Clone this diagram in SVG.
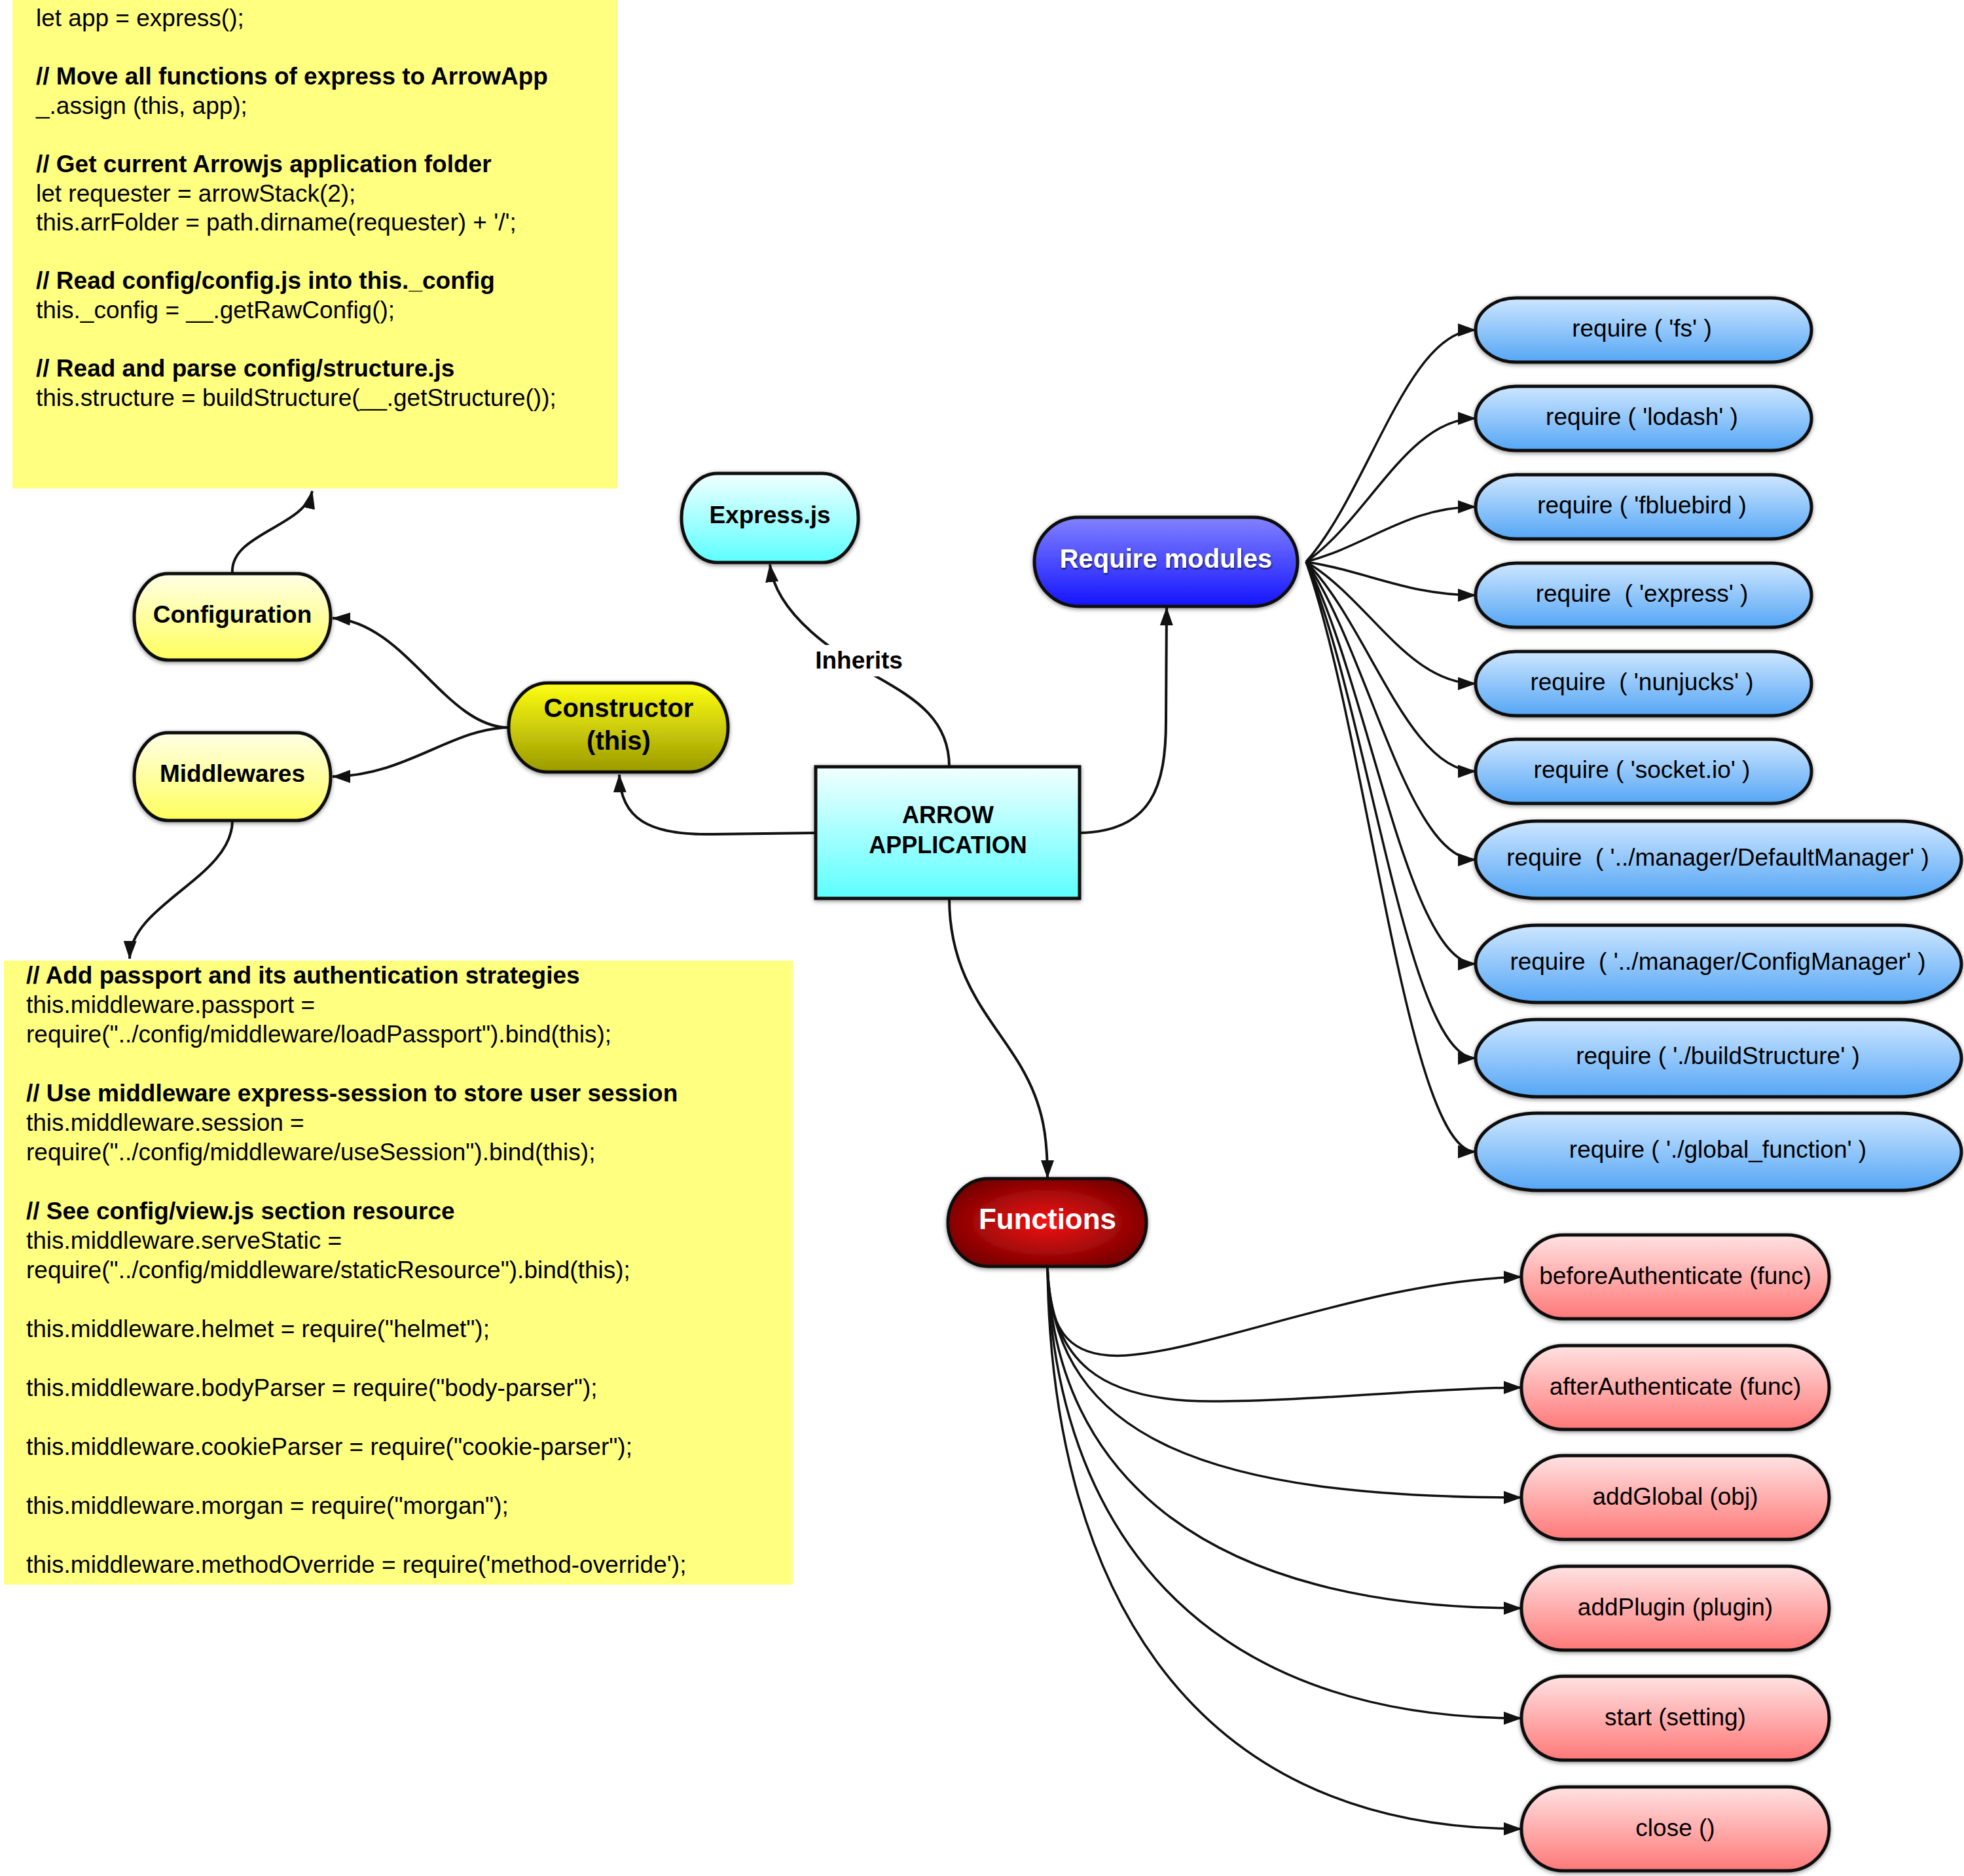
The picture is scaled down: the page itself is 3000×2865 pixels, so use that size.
<svg xmlns="http://www.w3.org/2000/svg" width="3000" height="2865" viewBox="0 0 3000 2865">
  <defs>
    <style>
      .code { font-family: "Liberation Sans", Arial, sans-serif; font-size: 37px; fill: #000; }
      .code .c { font-weight: bold; }
      .lbl { font-family: "Liberation Sans", Arial, sans-serif; font-size: 37px; fill: #000; text-anchor: middle; white-space: pre; }
      .b { font-weight: bold; }
      .node { stroke: #111; stroke-width: 5; filter: url(#sh); }
      .edge { fill: none; stroke: #111; stroke-width: 4; marker-end: url(#ah); }
      .fan { fill: none; stroke: #111; stroke-width: 3.5; marker-end: url(#ah); }
      .note { fill: #ffff80; }
    </style>
    <filter id="sh" x="-10%" y="-20%" width="120%" height="140%">
      <feDropShadow dx="0" dy="2" stdDeviation="3" flood-color="#000" flood-opacity="0.45"/>
    </filter>
    <filter id="tsh" x="-10%" y="-30%" width="120%" height="160%">
      <feDropShadow dx="1" dy="2" stdDeviation="1.5" flood-color="#000" flood-opacity="0.7"/>
    </filter>
    <marker id="ah" viewBox="0 0 28 20" refX="27" refY="10" markerWidth="28" markerHeight="20" markerUnits="userSpaceOnUse" orient="auto">
      <path d="M0,0 L28,10 L0,20 z" fill="#111"/>
    </marker>
    <linearGradient id="gYellow" x1="0" y1="0" x2="0" y2="1">
      <stop offset="0" stop-color="#ffffe6"/>
      <stop offset="1" stop-color="#ffff5c"/>
    </linearGradient>
    <linearGradient id="gOlive" x1="0" y1="0" x2="0" y2="1">
      <stop offset="0" stop-color="#ffff14"/>
      <stop offset="1" stop-color="#9a9a00"/>
    </linearGradient>
    <linearGradient id="gCyan" x1="0" y1="0" x2="0" y2="1">
      <stop offset="0" stop-color="#f2ffff"/>
      <stop offset="1" stop-color="#5cffff"/>
    </linearGradient>
    <linearGradient id="gBlue" x1="0" y1="0" x2="0" y2="1">
      <stop offset="0" stop-color="#8282ff"/>
      <stop offset="1" stop-color="#1414ff"/>
    </linearGradient>
    <radialGradient id="gRed" cx="0.5" cy="0.5" r="0.55">
      <stop offset="0" stop-color="#f21414"/>
      <stop offset="1" stop-color="#7a0000"/>
    </radialGradient>
    <linearGradient id="gSky" x1="0" y1="0" x2="0" y2="1">
      <stop offset="0" stop-color="#cde6ff"/>
      <stop offset="1" stop-color="#55a6f5"/>
    </linearGradient>
    <linearGradient id="gPink" x1="0" y1="0" x2="0" y2="1">
      <stop offset="0" stop-color="#ffe2e2"/>
      <stop offset="1" stop-color="#ff7878"/>
    </linearGradient>
  </defs>

  <rect width="3000" height="2865" fill="#ffffff"/>

  <!-- Constructor code note -->
  <g id="note-configuration">
    <rect class="note" x="19" y="0" width="924" height="746"/>
    <text class="code" x="55">
      <tspan x="55" y="40">let app = express();</tspan>
      <tspan class="c" x="55" y="129">// Move all functions of express to ArrowApp</tspan>
      <tspan x="55" y="174">_.assign (this, app);</tspan>
      <tspan class="c" x="55" y="263">// Get current Arrowjs application folder</tspan>
      <tspan x="55" y="308">let requester = arrowStack(2);</tspan>
      <tspan x="55" y="352">this.arrFolder = path.dirname(requester) + '/';</tspan>
      <tspan class="c" x="55" y="441">// Read config/config.js into this._config</tspan>
      <tspan x="55" y="486">this._config = __.getRawConfig();</tspan>
      <tspan class="c" x="55" y="575">// Read and parse config/structure.js</tspan>
      <tspan x="55" y="620">this.structure = buildStructure(__.getStructure());</tspan>
    </text>
  </g>

  <!-- Middleware code note -->
  <g id="note-middlewares">
    <rect class="note" x="6" y="1467" width="1205" height="953"/>
    <text class="code">
      <tspan class="c" x="40" y="1502">// Add passport and its authentication strategies</tspan>
      <tspan x="40" y="1547">this.middleware.passport =</tspan>
      <tspan x="40" y="1592">require("../config/middleware/loadPassport").bind(this);</tspan>
      <tspan class="c" x="40" y="1682">// Use middleware express-session to store user session</tspan>
      <tspan x="40" y="1727">this.middleware.session =</tspan>
      <tspan x="40" y="1772">require("../config/middleware/useSession").bind(this);</tspan>
      <tspan class="c" x="40" y="1862">// See config/view.js section resource</tspan>
      <tspan x="40" y="1907">this.middleware.serveStatic =</tspan>
      <tspan x="40" y="1952">require("../config/middleware/staticResource").bind(this);</tspan>
      <tspan x="40" y="2042">this.middleware.helmet = require("helmet");</tspan>
      <tspan x="40" y="2132">this.middleware.bodyParser = require("body-parser");</tspan>
      <tspan x="40" y="2222">this.middleware.cookieParser = require("cookie-parser");</tspan>
      <tspan x="40" y="2312">this.middleware.morgan = require("morgan");</tspan>
      <tspan x="40" y="2402">this.middleware.methodOverride = require('method-override');</tspan>
    </text>
  </g>

  <!-- Connectors -->
  <g id="connectors">
    <path class="edge" d="M355,876 C350,815 465,805 477,750"/>
    <path class="edge" d="M777,1111 C680,1111 620,950 508,944"/>
    <path class="edge" d="M777,1111 C690,1112 620,1185 508,1186"/>
    <path class="edge" d="M355,1253 C355,1340 200,1380 198,1464"/>
    <path class="edge" d="M1246,1272 L1090,1274 C990,1276 948,1250 946,1183"/>
    <path class="edge" d="M1450,1171 C1450,1100 1400,1068 1340,1034 S1185,940 1176,862"/>
    <path class="edge" d="M1649,1272 C1760,1270 1781,1200 1781,1100 L1782,928"/>
    <path class="edge" d="M1450,1372 C1450,1500 1520,1560 1560,1630 C1595,1690 1600,1740 1600,1799"/>

    <!-- module fan -->
    <path class="fan" d="M1995,858 C2090,752 2150,504 2254,504"/>
    <path class="fan" d="M1995,858 C2090,792 2150,639 2254,639"/>
    <path class="fan" d="M1995,858 C2090,833 2150,774 2254,774"/>
    <path class="fan" d="M1995,858 C2090,873 2150,909 2254,909"/>
    <path class="fan" d="M1995,858 C2090,914 2150,1044 2254,1044"/>
    <path class="fan" d="M1995,858 C2090,954 2150,1178 2254,1178"/>
    <path class="fan" d="M1995,858 C2090,995 2150,1313 2254,1313"/>
    <path class="fan" d="M1995,858 C2090,1042 2150,1472 2254,1472"/>
    <path class="fan" d="M1995,858 C2090,1085 2150,1616 2254,1616"/>
    <path class="fan" d="M1995,858 C2090,1128 2150,1759 2254,1759"/>

    <!-- function fan -->
    <path class="fan" d="M1600,1934 C1600,2040 1640,2075 1720,2070 C1850,2062 2100,1955 2324,1950"/>
    <path class="fan" d="M1600,1934 C1605,2080 1680,2140 1850,2140 C2000,2140 2200,2119 2324,2119"/>
    <path class="fan" d="M1600,1934 C1610,2200 1850,2287 2324,2287"/>
    <path class="fan" d="M1600,1934 C1610,2260 1850,2456 2324,2456"/>
    <path class="fan" d="M1600,1934 C1610,2330 1830,2624 2324,2624"/>
    <path class="fan" d="M1600,1934 C1605,2400 1800,2793 2324,2793"/>

    <!-- edge label -->
    <rect x="1238" y="985" width="150" height="48" fill="#ffffff"/>
    <text class="lbl b" x="1312" y="1021">Inherits</text>
  </g>

  <!-- Nodes -->
  <g id="configuration">
    <rect class="node" x="205" y="876" width="300" height="132" rx="52" ry="66" fill="url(#gYellow)"/>
    <text class="lbl b" x="355" y="951">Configuration</text>
  </g>
  <g id="middlewares">
    <rect class="node" x="205" y="1119" width="300" height="134" rx="52" ry="67" fill="url(#gYellow)"/>
    <text class="lbl b" x="355" y="1194">Middlewares</text>
  </g>
  <g id="constructor">
    <rect class="node" x="777" y="1043" width="335" height="136" rx="60" ry="68" fill="url(#gOlive)"/>
    <text class="lbl b" x="945" y="1095" style="font-size:40px">Constructor</text>
    <text class="lbl b" x="945" y="1145" style="font-size:40px">(this)</text>
  </g>
  <g id="expressjs">
    <rect class="node" x="1041" y="723" width="270" height="136" rx="55" ry="68" fill="url(#gCyan)"/>
    <text class="lbl b" x="1176" y="799">Express.js</text>
  </g>
  <g id="arrow-application">
    <rect class="node" x="1246" y="1171" width="403" height="201" fill="url(#gCyan)"/>
    <text class="lbl b" x="1448" y="1257" style="font-size:36px">ARROW</text>
    <text class="lbl b" x="1448" y="1303" style="font-size:36px">APPLICATION</text>
  </g>
  <g id="require-modules">
    <rect class="node" x="1580" y="790" width="402" height="136" rx="68" ry="68" fill="url(#gBlue)"/>
    <text class="lbl b" x="1781" y="867" style="font-size:40px;fill:#ffffff" filter="url(#tsh)">Require modules</text>
  </g>
  <g id="functions">
    <rect class="node" x="1448" y="1800" width="303" height="134" rx="62" ry="67" fill="url(#gRed)"/>
    <text class="lbl b" x="1600" y="1877" style="font-size:44px;fill:#ffffff">Functions</text>
  </g>

  <!-- required modules -->
  <g id="req-fs">
    <rect class="node" x="2254" y="455" width="513" height="98" rx="62" ry="49" fill="url(#gSky)"/>
    <text class="lbl" x="2508" y="514">require ( 'fs' )</text>
  </g>
  <g id="req-lodash">
    <rect class="node" x="2254" y="590" width="513" height="98" rx="62" ry="49" fill="url(#gSky)"/>
    <text class="lbl" x="2508" y="649">require ( 'lodash' )</text>
  </g>
  <g id="req-bluebird">
    <rect class="node" x="2254" y="725" width="513" height="98" rx="62" ry="49" fill="url(#gSky)"/>
    <text class="lbl" x="2508" y="784">require ( 'fbluebird )</text>
  </g>
  <g id="req-express">
    <rect class="node" x="2254" y="860" width="513" height="98" rx="62" ry="49" fill="url(#gSky)"/>
    <text class="lbl" x="2508" y="919">require  ( 'express' )</text>
  </g>
  <g id="req-nunjucks">
    <rect class="node" x="2254" y="995" width="513" height="98" rx="62" ry="49" fill="url(#gSky)"/>
    <text class="lbl" x="2508" y="1054">require  ( 'nunjucks' )</text>
  </g>
  <g id="req-socketio">
    <rect class="node" x="2254" y="1129" width="513" height="98" rx="62" ry="49" fill="url(#gSky)"/>
    <text class="lbl" x="2508" y="1188">require ( 'socket.io' )</text>
  </g>
  <g id="req-defaultmanager">
    <rect class="node" x="2254" y="1254" width="742" height="118" rx="95" ry="59" fill="url(#gSky)"/>
    <text class="lbl" x="2624" y="1322">require  ( '../manager/DefaultManager' )</text>
  </g>
  <g id="req-configmanager">
    <rect class="node" x="2254" y="1413" width="742" height="118" rx="95" ry="59" fill="url(#gSky)"/>
    <text class="lbl" x="2624" y="1481">require  ( '../manager/ConfigManager' )</text>
  </g>
  <g id="req-buildstructure">
    <rect class="node" x="2254" y="1557" width="742" height="118" rx="95" ry="59" fill="url(#gSky)"/>
    <text class="lbl" x="2624" y="1625">require ( './buildStructure' )</text>
  </g>
  <g id="req-globalfunction">
    <rect class="node" x="2254" y="1700" width="742" height="118" rx="95" ry="59" fill="url(#gSky)"/>
    <text class="lbl" x="2624" y="1768">require ( './global_function' )</text>
  </g>

  <!-- application functions -->
  <g id="fn-beforeauthenticate">
    <rect class="node" x="2324" y="1886" width="470" height="128" rx="64" ry="64" fill="url(#gPink)"/>
    <text class="lbl" x="2559" y="1961">beforeAuthenticate (func)</text>
  </g>
  <g id="fn-afterauthenticate">
    <rect class="node" x="2324" y="2055" width="470" height="128" rx="64" ry="64" fill="url(#gPink)"/>
    <text class="lbl" x="2559" y="2130">afterAuthenticate (func)</text>
  </g>
  <g id="fn-addglobal">
    <rect class="node" x="2324" y="2223" width="470" height="128" rx="64" ry="64" fill="url(#gPink)"/>
    <text class="lbl" x="2559" y="2298">addGlobal (obj)</text>
  </g>
  <g id="fn-addplugin">
    <rect class="node" x="2324" y="2392" width="470" height="128" rx="64" ry="64" fill="url(#gPink)"/>
    <text class="lbl" x="2559" y="2467">addPlugin (plugin)</text>
  </g>
  <g id="fn-start">
    <rect class="node" x="2324" y="2560" width="470" height="128" rx="64" ry="64" fill="url(#gPink)"/>
    <text class="lbl" x="2559" y="2635">start (setting)</text>
  </g>
  <g id="fn-close">
    <rect class="node" x="2324" y="2729" width="470" height="128" rx="64" ry="64" fill="url(#gPink)"/>
    <text class="lbl" x="2559" y="2804">close ()</text>
  </g>
</svg>
